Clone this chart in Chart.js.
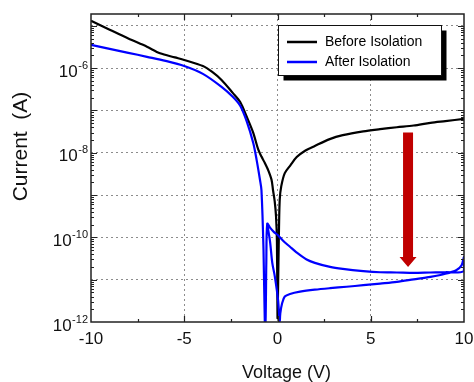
<!DOCTYPE html>
<html>
<head>
<meta charset="utf-8">
<script src="https://cdn.jsdelivr.net/npm/chart.js@4.4.1/dist/chart.umd.min.js"></script>
<style>
  html, body { margin: 0; padding: 0; background: #fff; }
  #wrap { width: 474px; height: 382px; position: relative; }
</style>
</head>
<body>
<div id="wrap"><canvas id="ivChart"></canvas></div>
<script>
const FONT = '"Liberation Sans", Arial, Helvetica, sans-serif';

// |I| vs V (A)
const beforeVoltage = [-10, -9, -8, -7, -6.3, -5.5, -5, -4, -3.5, -3, -2.4, -2, -1.65, -1.3, -1.03, -0.86, -0.7, -0.5,
  -0.32, -0.24, -0.15, -0.08, -0.03, 0, 0.02, 0.05, 0.08, 0.12, 0.2, 0.39, 0.7, 1.03, 1.5, 2, 2.8, 3.5, 4.6, 5.5, 6.4,
  7.3, 8.2, 9, 10];
const beforeCurrent = [1.32e-5, 8.1e-6, 5.0e-6, 3.2e-6, 2.24e-6, 1.79e-6, 1.56e-6, 1.12e-6, 8.1e-7, 5.25e-7, 2.6e-7, 1.58e-7,
  7.1e-8, 2.95e-8, 1.18e-8, 8.1e-9, 6.0e-9, 3.9e-9, 2.3e-9, 1.3e-9, 7.1e-10, 3.2e-10, 7.9e-11, 1.26e-12, 3.2e-12, 2.5e-11,
  1.6e-10, 7.9e-10, 1.6e-9, 3.3e-9, 5.1e-9, 7.9e-9, 1.13e-8, 1.45e-8, 2.1e-8, 2.6e-8, 3.2e-8, 3.6e-8, 4.0e-8, 4.4e-8,
  5.1e-8, 5.6e-8, 6.3e-8];

// after isolation is a loop, so points are in sweep order
const afterVoltage = [-10, -9, -8, -7, -6, -5, -4, -3, -2.4, -2, -1.65, -1.3, -1.12, -0.94, -0.86, -0.75, -0.68, -0.64, -0.6,
  -0.55, -0.4, -0.2, 0, 0.3, 0.67, 1, 1.56, 2, 2.82, 3.5, 4.6, 5.5, 6.4, 7.3, 8.2, 9, 10,
  10, 9.87, 9.6, 9, 8.2, 7.3, 6.4, 5.5, 4.6, 3.7, 2.82, 2, 1.21, 0.67, 0.39, 0.25, 0.15, 0.12,
  0.03, -0.14, -0.28, -0.4, -0.55];
const afterCurrent = [3.55e-6, 2.85e-6, 2.3e-6, 1.85e-6, 1.48e-6, 1.12e-6, 7.3e-7, 3.6e-7, 2.1e-7, 1.29e-7, 5.5e-8, 1.7e-8,
  6.8e-9, 2.3e-9, 1.3e-9, 5e-11, 1e-12, 1e-12, 2.5e-11,
  2.1e-10, 1.7e-10, 1.35e-10, 1.15e-10, 8.3e-11, 6.0e-11, 4.5e-11, 3.0e-11, 2.5e-11, 2.0e-11, 1.8e-11, 1.6e-11, 1.5e-11,
  1.48e-11, 1.45e-11, 1.48e-11, 1.5e-11, 1.6e-11,
  3.4e-11, 2.2e-11, 1.7e-11, 1.38e-11, 1.17e-11, 1.02e-11, 8.9e-12, 8.1e-12, 7.4e-12, 6.8e-12, 6.3e-12, 5.8e-12, 5.2e-12,
  4.6e-12, 4.0e-12, 2.8e-12, 1.6e-12, 1e-12,
  3.3e-12, 1.17e-11, 2.5e-11, 7.9e-11, 2.1e-10];

const xTickLabels = ['-10', '-5', '0', '5', '10'];
const yLabelExponents = [-12, -10, -8, -6];

// red arrow (V, from A to A)
const arrowVoltage = 7;
const arrowFrom = 3e-8;
const arrowTo = 2e-11;

function toPoints(xs, ys) {
  return xs.map((v, i) => ({ x: v, y: ys[i] }));
}

function isDecade(v) {
  const l = Math.log10(v);
  return Math.abs(l - Math.round(l)) < 1e-6;
}

const decorPlugin = {
  id: 'decor',
  beforeDraw(chart) {
    const { ctx, width, height } = chart;
    ctx.save();
    ctx.fillStyle = '#fff';
    ctx.fillRect(0, 0, width, height);
    ctx.restore();
  },
  afterDatasetsDraw(chart) {
    const { ctx, scales: { x, y } } = chart;
    const cx = x.getPixelForValue(arrowVoltage);
    const y0 = y.getPixelForValue(arrowFrom);
    const y1 = y.getPixelForValue(arrowTo);
    const headLen = 10, headHalf = 8.5, shaftHalf = 5;
    ctx.save();
    ctx.fillStyle = '#c00000';
    ctx.beginPath();
    ctx.moveTo(cx - shaftHalf, y0);
    ctx.lineTo(cx + shaftHalf, y0);
    ctx.lineTo(cx + shaftHalf, y1 - headLen);
    ctx.lineTo(cx + headHalf, y1 - headLen);
    ctx.lineTo(cx, y1);
    ctx.lineTo(cx - headHalf, y1 - headLen);
    ctx.lineTo(cx - shaftHalf, y1 - headLen);
    ctx.closePath();
    ctx.fill();
    ctx.restore();
  },
  afterDraw(chart) {
    const { ctx, chartArea: a, scales: { x, y } } = chart;
    ctx.save();

    // frame
    ctx.strokeStyle = '#222';
    ctx.lineWidth = 1.5;
    ctx.strokeRect(a.left, a.top, a.right - a.left, a.bottom - a.top);

    // inward tick marks
    ctx.lineWidth = 1.2;
    ctx.beginPath();
    x.ticks.forEach((t) => {
      if (t.value <= x.min || t.value >= x.max) return;
      const px = Math.round(x.getPixelForValue(t.value)) + 0.5;
      const len = t.value % 5 === 0 ? 6 : 3;
      ctx.moveTo(px, a.bottom); ctx.lineTo(px, a.bottom - len);
      ctx.moveTo(px, a.top); ctx.lineTo(px, a.top + len);
    });
    y.ticks.forEach((t) => {
      if (t.value <= y.min * 1.0001 || t.value >= y.max) return;
      const py = Math.round(y.getPixelForValue(t.value)) + 0.5;
      const len = isDecade(t.value) ? 6 : 3;
      ctx.moveTo(a.left, py); ctx.lineTo(a.left + len, py);
      ctx.moveTo(a.right, py); ctx.lineTo(a.right - len, py);
    });
    ctx.stroke();

    // y tick labels 10^n
    ctx.fillStyle = '#111';
    ctx.textBaseline = 'alphabetic';
    ctx.textAlign = 'left';
    yLabelExponents.forEach((e) => {
      const py = y.getPixelForValue(Math.pow(10, e));
      const expText = String(e);
      ctx.font = `11px ${FONT}`;
      const wExp = ctx.measureText(expText).width;
      const expLeft = 88 - wExp;
      ctx.fillText(expText, expLeft, py + 0.5);
      ctx.font = `17px ${FONT}`;
      const wBase = ctx.measureText('10').width;
      ctx.fillText('10', expLeft - wBase - 0.5, py + 8.5);
    });

    // axis titles
    ctx.font = `18px ${FONT}`;
    ctx.textAlign = 'center';
    ctx.fillText('Voltage (V)', 286.5, 378);
    ctx.save();
    ctx.translate(27, 146.5);
    ctx.rotate(-Math.PI / 2);
    ctx.font = `21px ${FONT}`;
    ctx.fillText('Current  (A)', 0, 0);
    ctx.restore();

    // legend with drop shadow
    const lx = 278.5, ly = 25.5, lw = 163, lh = 50;
    ctx.fillStyle = '#000';
    ctx.fillRect(lx + 5, ly + 5, lw, lh);
    ctx.fillStyle = '#fff';
    ctx.fillRect(lx, ly, lw, lh);
    ctx.strokeStyle = '#111';
    ctx.lineWidth = 1;
    ctx.strokeRect(lx, ly, lw, lh);
    ctx.font = `14px ${FONT}`;
    ctx.textAlign = 'left';
    ctx.textBaseline = 'middle';
    chart.data.datasets.forEach((ds, i) => {
      const rowY = 42 + i * 20;
      ctx.strokeStyle = ds.borderColor;
      ctx.lineWidth = 2.5;
      ctx.beginPath();
      ctx.moveTo(287, rowY); ctx.lineTo(317, rowY);
      ctx.stroke();
      ctx.fillStyle = '#000';
      ctx.fillText(ds.label, 325, rowY);
    });

    ctx.restore();
  },
};

const gridGray = '#8c8c8c';

new Chart(document.getElementById('ivChart'), {
  type: 'line',
  data: {
    datasets: [
      {
        label: 'Before Isolation',
        data: toPoints(beforeVoltage, beforeCurrent),
        borderColor: '#000000',
        borderWidth: 2.2,
        pointRadius: 0,
        tension: 0.3,
        order: 1,
      },
      {
        label: 'After Isolation',
        data: toPoints(afterVoltage, afterCurrent),
        borderColor: '#0000ff',
        borderWidth: 2.2,
        pointRadius: 0,
        tension: 0.3,
        order: 0,
      },
    ],
  },
  options: {
    responsive: true,
    maintainAspectRatio: false,
    animation: false,
    layout: { padding: { top: 14, right: 10, left: 0, bottom: 0 } },
    plugins: { legend: { display: false }, tooltip: { enabled: false } },
    scales: {
      x: {
        type: 'linear',
        min: -10,
        max: 10,
        afterFit(scale) {
          scale.height = 60;
          scale.paddingLeft = 0;
          scale.paddingRight = 0;
        },
        ticks: {
          stepSize: 2.5,
          autoSkip: false,
          maxRotation: 0,
          padding: 7,
          color: '#111',
          font: { family: FONT, size: 17 },
          callback(value) {
            const s = String(value);
            return xTickLabels.includes(s) ? s : '';
          },
        },
        grid: {
          drawTicks: false,
          lineWidth: 1,
          color(c) {
            const v = c.tick ? c.tick.value : null;
            return v === -5 || v === 0 || v === 5 ? gridGray : 'rgba(0,0,0,0)';
          },
        },
        border: { display: false, dash: [2, 3] },
      },
      y: {
        type: 'logarithmic',
        min: 1e-12,
        max: 1.9e-5,
        afterFit(scale) {
          scale.width = 91;
          scale.paddingTop = 0;
          scale.paddingBottom = 0;
        },
        afterBuildTicks(scale) {
          const ticks = [];
          for (let e = -12; e <= -5; e++) {
            for (let m = 1; m <= 9; m++) {
              const v = m * Math.pow(10, e);
              if (v <= scale.max) ticks.push({ value: v, major: m === 1 });
            }
          }
          scale.ticks = ticks;
        },
        ticks: { display: false },
        grid: {
          drawTicks: false,
          lineWidth: 1,
          color(c) {
            const v = c.tick ? c.tick.value : null;
            return v && isDecade(v) && v > 1.5e-12 ? gridGray : 'rgba(0,0,0,0)';
          },
        },
        border: { display: false, dash: [2, 3] },
      },
    },
  },
  plugins: [decorPlugin],
});
</script>
</body>
</html>
